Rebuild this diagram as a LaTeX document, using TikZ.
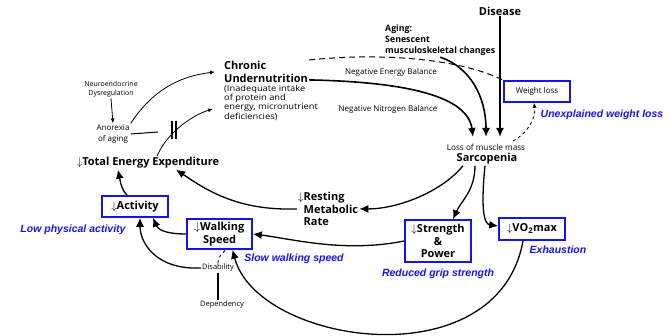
\documentclass[tikz,border=0pt]{standalone}
\usepackage{fontspec}
\setmainfont{Open Sans}
\newfontfamily\lblfont{Liberation Sans}
\newfontfamily\widefont[FakeStretch=1.12]{Open Sans}
\usetikzlibrary{arrows.meta}
\definecolor{frailblue}{RGB}{20,20,240}
\newcommand{\FrailLine}{1.3pt}

\begin{document}
\begin{tikzpicture}[x=1pt, y=-1pt, >=Latex,
    big/.style={font=\bfseries\fontsize{11}{13}\selectfont, inner sep=1pt},
    mid/.style={font=\bfseries\fontsize{8.8}{11}\selectfont, align=left, inner sep=1pt},
    tiny/.style={font=\fontsize{7.5}{9}\selectfont, align=center, inner sep=1pt},
    box/.style={draw=frailblue, line width=1.6pt, inner sep=1pt, align=center,
                font=\bfseries\fontsize{11}{12.5}\selectfont},
    lbl/.style={text=frailblue, inner sep=0pt,
                font=\lblfont\bfseries\itshape\fontsize{10.5}{12}\selectfont},
    arr/.style={-{Latex[length=9pt,width=8pt]}, line width=\FrailLine},
    thin/.style={-{Latex[length=5pt,width=4pt]}, line width=0.8pt}]
    \useasboundingbox (0,0) rectangle (669,336);

    % causes on top
    \node[big] (dis) at (500,11) {Disease};
    \node[mid, anchor=north west] (age) at (384,24) {Aging:\\Senescent\\musculoskeletal changes};
    \node[big, anchor=north west, align=left] (cu) at (223,60) {Chronic\\Undernutrition};
    \node[tiny, anchor=north west, align=left, font=\widefont\fontsize{8.3}{9.3}\selectfont] (cud) at (cu.south west)
         {(Inadequate intake\\of protein and\\energy, micronutrient\\deficiencies)};
    \node[tiny, font=\fontsize{7}{9.5}\selectfont] (ned) at (111,89) {Neuroendocrine\\Dysregulation};
    \node[tiny, font=\fontsize{8}{11}\selectfont] (ano) at (113,134) {Anorexia\\of aging};

    % middle row
    \node[big] (tee) at (148,163) {$\downarrow$Total Energy Expenditure};
    \node[big, anchor=north west, align=left, font=\bfseries\fontsize{11}{12.5}\selectfont] (rmr) at (297,191)
         {$\downarrow$Resting\\\hphantom{$\downarrow$}Metabolic\\\hphantom{$\downarrow$}Rate};
    \node[tiny, font=\fontsize{8.2}{9}\selectfont] (loss) at (486,147) {Loss of muscle mass};
    \node[big] (sar) at (487,159) {Sarcopenia};
    \coordinate (s1) at (473,137);
    \coordinate (s2) at (486,137);
    \coordinate (s3) at (500,137);
    \coordinate (sw) at (513,141);
    \coordinate (blk) at (158,132);

    % the five boxes
    \node[box, minimum width=66, minimum height=21, font=\fontsize{8}{9}\selectfont] (wl) at (537,91.5) {Weight loss};
    \node[box, minimum width=66, minimum height=21] (act) at (135,206.5) {$\downarrow$Activity};
    \node[box, minimum width=65, minimum height=30] (ws) at (219.5,234) {$\downarrow$Walking\\Speed};
    \node[box, minimum width=66, minimum height=42] (sp) at (438,241) {$\downarrow$Strength\\\&\\Power};
    \node[box, minimum width=66, minimum height=22] (vo) at (532,229) {$\downarrow$VO\textsubscript{2}max};
    \node[tiny] (dsb) at (218,268) {Disability};
    \node[tiny] (dep) at (222,305) {Dependency};

    % blue criteria
    \node[lbl] (lwl) at (602,115) {Unexplained weight loss};
    \node[lbl] (lact) at (73,230) {Low physical activity};
    \node[lbl] (lws) at (294,259) {Slow walking speed};
    \node[lbl] (lsp) at (438,274) {Reduced grip strength};
    \node[lbl] (lvo) at (558,250) {Exhaustion};

    % into sarcopenia
    \draw[arr, line width=1.6pt] (dis.south) -- (s3);
    \draw[arr, line width=1.6pt] (age.south) .. controls +(30,10) and +(0,-40) .. (s2);
    \draw[arr, line width=1.6pt] ([yshift=-8]cu.east) .. controls +(100,2) and +(-5,-40) .. (s1);
    \node[tiny, font=\fontsize{8}{9}\selectfont] (neb) at (391,72) {Negative Energy Balance};
    \node[tiny, font=\fontsize{8}{9}\selectfont] (nnb) at (388,109) {Negative Nitrogen Balance};
    \draw[line width=1pt, dash pattern=on 6pt off 4pt] ([yshift=12]cu.east) .. controls +(80,-8) and +(-40,-20) .. (wl.north west);
    \draw[thin, dashed] (sw) .. controls +(15,-8) and +(2,15) .. ([xshift=-3]wl.south);

    % undernutrition loop
    \draw[thin] (ned.south) -- (ano.north);
    \draw[thin] (ano.north east) .. controls +(20,-30) and +(-40,5) .. ([xshift=-8]cu.west);
    \draw[line width=1pt] (ano.east) -- (blk);
    \draw[line width=1.2pt] (172,121) -- (172,139) (176,121) -- (176,139);
    \draw[thin] ([xshift=9]tee.north) .. controls +(8,-20) and +(-25,8) .. ([xshift=-10,yshift=-6]cud.west);

    % out of sarcopenia
    \draw[arr] ([xshift=-24]sar.south) .. controls +(-20,25) and +(40,0) .. (rmr.east);
    \draw[arr] ([xshift=-12]sar.south) .. controls +(0,25) and +(8,-18) .. ([xshift=15]sp.north);
    \draw[arr] ([xshift=-2]sar.south) .. controls +(-4,40) and +(-15,-2) .. ([yshift=3]vo.west);

    % back to energy expenditure
    \draw[arr] ([xshift=-8]act.north) .. controls +(-6,-6) and +(2,10) .. ([xshift=-30]tee.south);
    \draw[arr] (rmr.west) .. controls +(-60,2) and +(30,20) .. ([xshift=28]tee.south);
    \draw[arr] (sp.west) .. controls +(-60,12) and +(40,5) .. (ws.east);
    \draw[arr] (ws.west) .. controls +(-20,0) and +(5,12) .. ([xshift=18]act.south);
    \draw[arr] (dsb.west) .. controls +(-45,2) and +(0,25) .. ([xshift=5]act.south);
    \draw[dashed, line width=0.8pt] (dsb.north) .. controls +(0,-8) and +(-3,5) .. ([xshift=6]ws.south);
    \draw[line width=1.2pt] (dsb.south) -- (dsb.south |- dep.north);
    \draw[arr] ([xshift=-9]vo.south) .. controls +(-25,140) and +(25,95) .. ([xshift=13]ws.south);
\end{tikzpicture}
\end{document}
